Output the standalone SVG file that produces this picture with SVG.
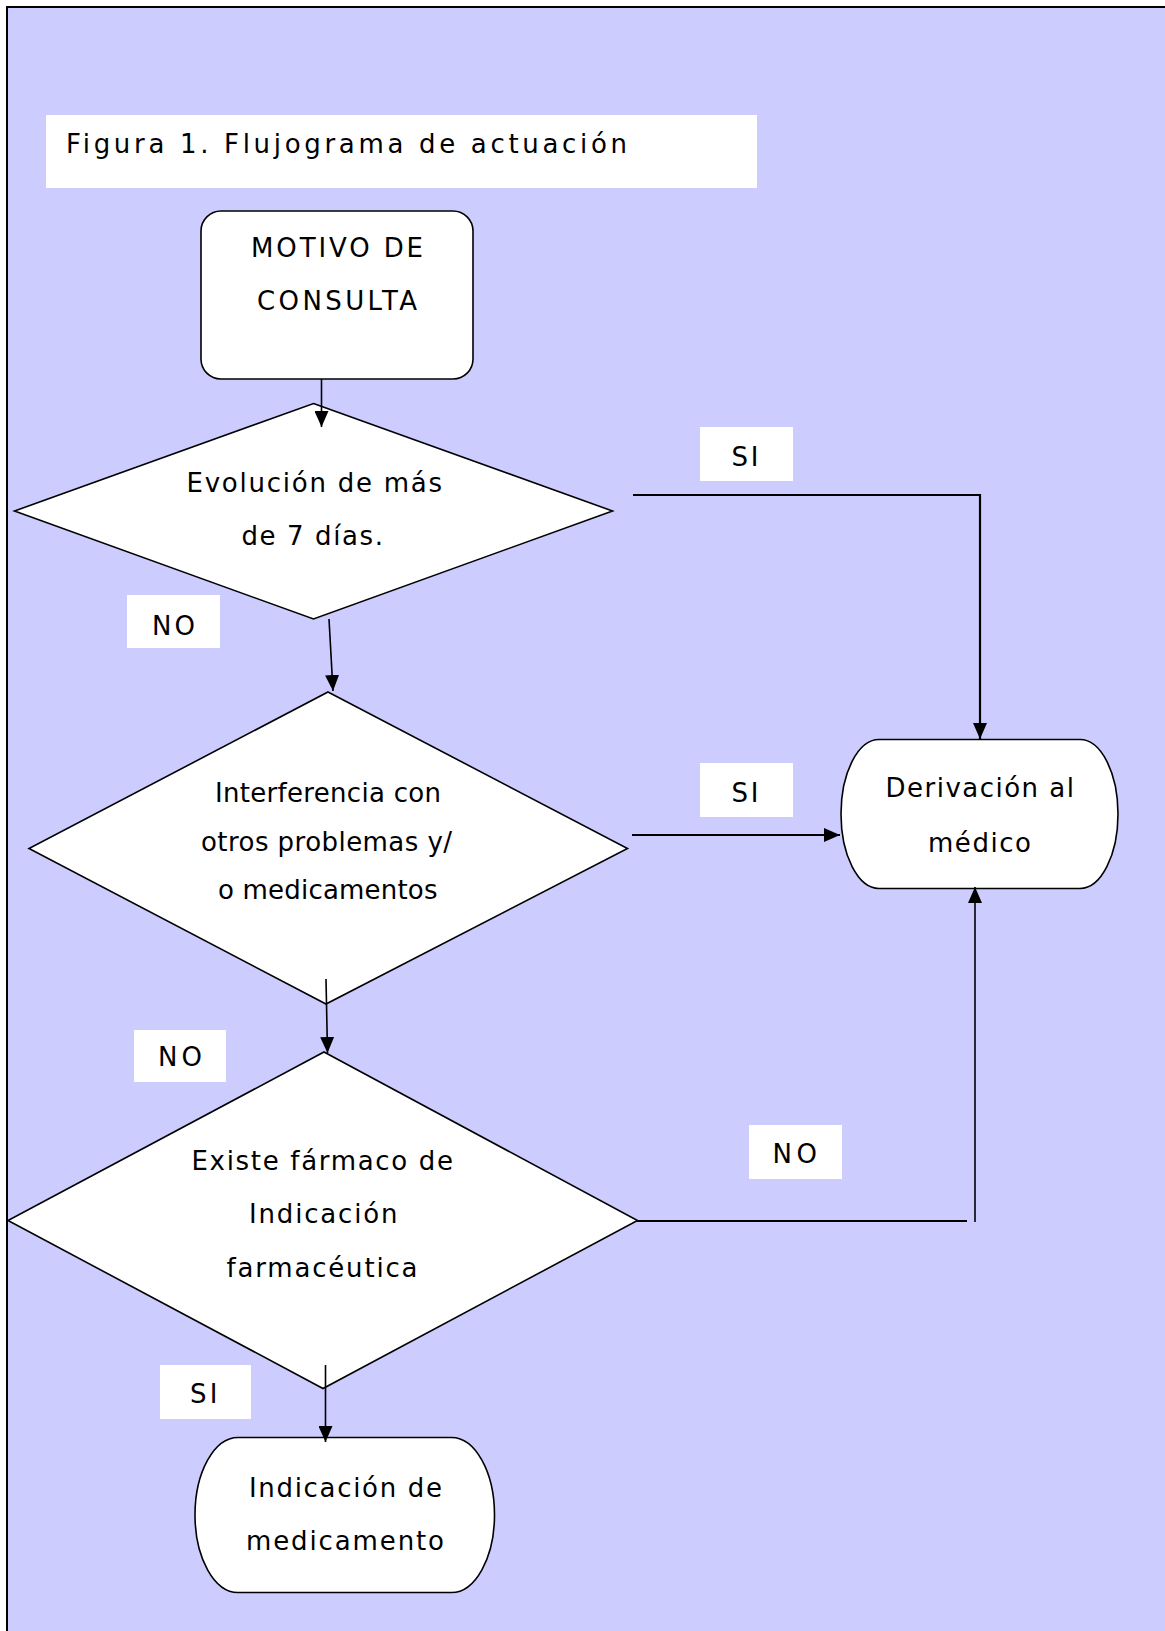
<svg xmlns="http://www.w3.org/2000/svg" width="1165" height="1631" viewBox="0 0 1165 1631">
<defs>
<style>
.shape{fill:#fff;stroke:#000;stroke-width:1.6}
.lbl{fill:#fff;stroke:none}
.t{font-family:"DejaVu Sans","Liberation Sans",sans-serif;font-size:26px;fill:#000;text-anchor:start}
.c{fill:none;stroke:#000;stroke-width:1.6}
.c2{fill:none;stroke:#000;stroke-width:2.2}
</style>
<marker id="arr" markerUnits="userSpaceOnUse" markerWidth="16" markerHeight="14" refX="16" refY="7" orient="auto">
<path d="M0,0 L16,7 L0,14 Z" fill="#000"/>
</marker>
</defs>
<rect x="0" y="0" width="1165" height="1631" fill="#fff"/>
<rect x="7" y="7" width="1170" height="1640" fill="#CCCCFF" stroke="#000" stroke-width="2"/>

<g id="title">
<rect class="lbl" x="46" y="115" width="711" height="73"/>
<text class="t" x="66" y="153" font-size="29.5" textLength="561" lengthAdjust="spacing">Figura 1. Flujograma de actuación</text>
</g>

<g id="n-motivo">
<rect class="shape" x="201" y="211" width="272" height="168" rx="20" ry="20"/>
<text class="t" x="251" y="257" font-size="28" textLength="172" lengthAdjust="spacing">MOTIVO DE</text>
<text class="t" x="257" y="310" font-size="28" textLength="160" lengthAdjust="spacing">CONSULTA</text>
</g>

<g id="n-evolucion">
<polygon class="shape" points="313.5,403.5 612.5,511 313.5,619 14.5,511"/>
<text class="t" x="186.5" y="492" textLength="255.5" lengthAdjust="spacing">Evolución de más</text>
<text class="t" x="241.5" y="545" textLength="141.5" lengthAdjust="spacing">de 7 días.</text>
</g>

<g id="n-interferencia">
<polygon class="shape" points="328,692 627.5,848.5 326,1004 29,848.5"/>
<text class="t" x="215" y="802" font-size="24" textLength="226" lengthAdjust="spacing">Interferencia con</text>
<text class="t" x="201" y="851" font-size="24" textLength="251" lengthAdjust="spacing">otros problemas y/</text>
<text class="t" x="218" y="899" font-size="24" textLength="219.5" lengthAdjust="spacing">o medicamentos</text>
</g>

<g id="n-farmaco">
<polygon class="shape" points="324,1052 637.5,1220.5 323,1388.5 8,1220.5"/>
<text class="t" x="191.5" y="1170" font-size="25" textLength="261.5" lengthAdjust="spacing">Existe fármaco de</text>
<text class="t" x="249" y="1223" font-size="25" textLength="148.5" lengthAdjust="spacing">Indicación</text>
<text class="t" x="226.5" y="1277" font-size="25" textLength="191" lengthAdjust="spacing">farmacéutica</text>
</g>

<g id="n-derivacion">
<rect class="shape" x="841" y="739.5" width="277" height="149" rx="38" ry="74.5"/>
<text class="t" x="885.5" y="797" textLength="188.5" lengthAdjust="spacing">Derivación al</text>
<text class="t" x="928" y="852" textLength="103" lengthAdjust="spacing">médico</text>
</g>

<g id="n-indicacion">
<rect class="shape" x="195" y="1437.5" width="299.5" height="155" rx="43" ry="77.5"/>
<text class="t" x="249" y="1497" font-size="27" textLength="193" lengthAdjust="spacing">Indicación de</text>
<text class="t" x="246" y="1550" font-size="27" textLength="198" lengthAdjust="spacing">medicamento</text>
</g>

<g id="labels">
<rect class="lbl" x="127" y="595" width="93" height="53"/>
<text class="t" x="152" y="635" font-size="27" textLength="43" lengthAdjust="spacing">NO</text>
<rect class="lbl" x="700" y="427" width="93" height="54"/>
<text class="t" x="731.5" y="466" font-size="27" textLength="27" lengthAdjust="spacing">SI</text>
<rect class="lbl" x="700" y="763" width="93" height="54"/>
<text class="t" x="731.5" y="802" font-size="27" textLength="27" lengthAdjust="spacing">SI</text>
<rect class="lbl" x="134" y="1030" width="92" height="52"/>
<text class="t" x="158" y="1066" font-size="27" textLength="44" lengthAdjust="spacing">NO</text>
<rect class="lbl" x="749" y="1125" width="93" height="54"/>
<text class="t" x="772.5" y="1163" font-size="27" textLength="44.5" lengthAdjust="spacing">NO</text>
<rect class="lbl" x="160" y="1365" width="91" height="54"/>
<text class="t" x="190" y="1403" font-size="27" textLength="27.5" lengthAdjust="spacing">SI</text>
</g>

<g id="connectors">
<line class="c" x1="321.5" y1="379" x2="321.5" y2="427" marker-end="url(#arr)"/>
<line class="c" x1="329" y1="619" x2="333" y2="691" marker-end="url(#arr)"/>
<polyline class="c2" points="633,495 980,495 980,739" marker-end="url(#arr)"/>
<line class="c2" x1="632" y1="835" x2="840" y2="835" marker-end="url(#arr)"/>
<line class="c" x1="326" y1="979" x2="327.5" y2="1053" marker-end="url(#arr)"/>
<line class="c2" x1="637" y1="1221" x2="967" y2="1221"/>
<line class="c" x1="975" y1="1222" x2="975" y2="887" marker-end="url(#arr)"/>
<line class="c" x1="325.5" y1="1365" x2="325.5" y2="1442" marker-end="url(#arr)"/>
</g>
</svg>
